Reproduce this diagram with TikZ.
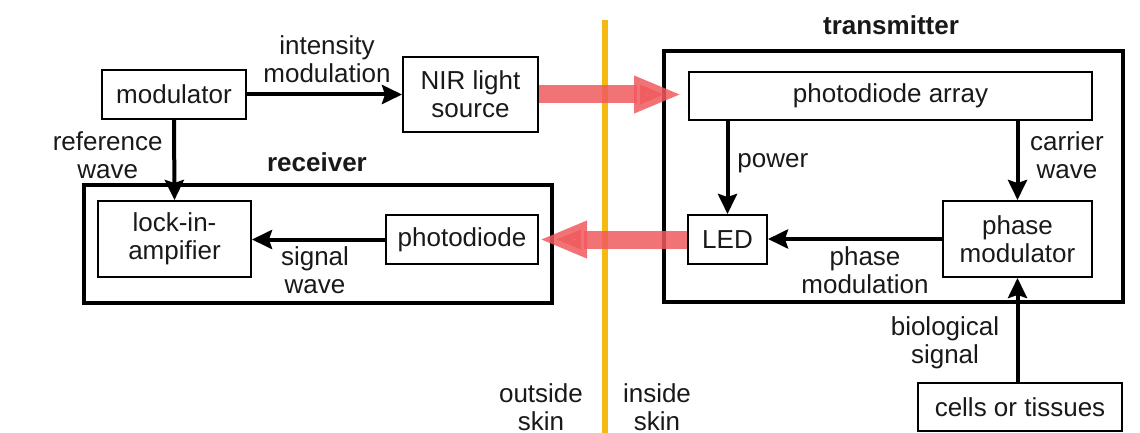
\documentclass[tikz,border=0pt]{standalone}
\usepackage{fontspec}
\setmainfont{Liberation Sans}
\usetikzlibrary{arrows.meta}
\definecolor{skinyellow}{RGB}{245,185,20}
\definecolor{lightred}{RGB}{240,90,94}
\begin{document}
\begin{tikzpicture}[x=0.5pt,y=-0.5pt,
  every node/.style={font=\fontsize{13}{14}\selectfont, align=center, inner sep=0pt, text=black!90},
  blk/.style n args={2}{draw, line width=1pt, minimum width=#1*0.5pt, minimum height=#2*0.5pt},
  outer/.style n args={2}{draw, line width=1.6pt, minimum width=#1*0.5pt, minimum height=#2*0.5pt},
  title/.style={font=\fontsize{13}{14}\selectfont\bfseries},
  conn/.style={line width=2pt, -{Stealth[length=10pt 0 0,width=9.5pt 0 0,inset=1.5pt]}},
  beam/.style={lightred, opacity=0.85, line width=9pt, -{Triangle[length=24pt 0 0,width=17pt 0 0]}},
  skinline/.style={skinyellow, line width=3pt}
]
\useasboundingbox (0,0) rectangle (1140,433);

% skin line
\coordinate (skintop) at (605,20);
\coordinate (skinbot) at (605,433);
\draw[skinline] (skintop) -- (skinbot);

% outer boxes
\node[outer={468}{118}] (receiver) at (318,244) {};
\node[outer={459}{251}] (transmitter) at (893.5,176.5) {};
\node[title] (rectitle) at (317,162) {receiver};
\node[title] (trtitle) at (891,25) {transmitter};

% blocks
\node[blk={144}{49}] (mod) at (174,94.5) {modulator};
\node[blk={135}{75}] (nir) at (470.5,94.5) {NIR light\\source};
\node[blk={153}{76}] (lock) at (174.5,239) {lock-in-\\ampifier};
\node[blk={152}{49}] (pd) at (462,239.5) {photodiode};
\node[blk={403}{48}] (pda) at (890.5,96) {photodiode array};
\node[blk={79}{49}] (led) at (727.5,239.5) {LED};
\node[blk={149}{76}] (pm) at (1017.5,239) {phase\\modulator};
\node[blk={204}{48}] (cells) at (1020,407) {cells or tissues};

% connectors
\draw[conn] (mod.east) -- (nir.west);
\draw[conn] (mod.south) -- (lock.north);
\draw[conn] (pd.west) -- (pd.west -| lock.east);
\draw[conn] (led.north |- pda.south) -- (led.north);
\draw[conn] (pm.north |- pda.south) -- (pm.north);
\draw[conn] (pm.west) -- (pm.west -| led.east);
\draw[conn] (cells.north -| pm.south) -- (pm.south);

% light beams
\draw[beam, shorten >=3pt] (nir.east) -- (nir.east -| pda.west);
\draw[beam] (led.west) -- (led.west -| pd.east);

% labels
\node (lintens) at (327,59) {intensity\\modulation};
\node[anchor=east] (lref) at (163,155) {reference\\wave};
\node (lsig) at (315,270) {signal\\wave};
\node[anchor=west] (lpow) at (737,163) {power};
\node (lcar) at (1067,155) {carrier\\wave};
\node (lphase) at (865,270) {phase\\modulation};
\node (lbio) at (945,343) {biological\\signal};
\node (lout) at (541,407) {outside\\skin};
\node (lin) at (657,407) {inside\\skin};
\end{tikzpicture}
\end{document}
